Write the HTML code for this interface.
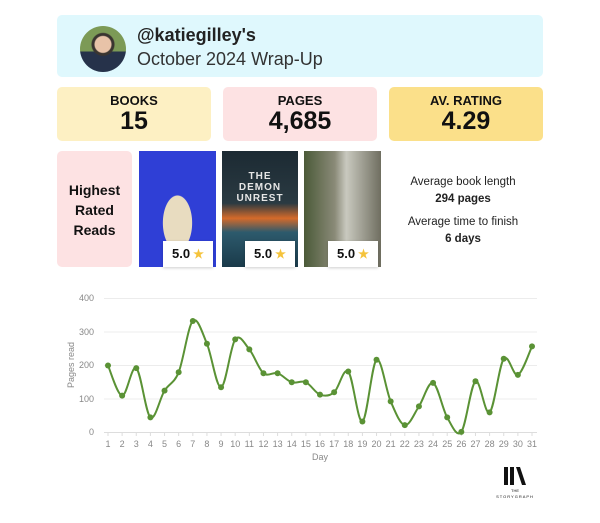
<!DOCTYPE html>
<html><head><meta charset="utf-8"><style>
*{margin:0;padding:0;box-sizing:border-box}
body{width:600px;height:523px;background:#fff;font-family:"Liberation Sans",sans-serif;position:relative;overflow:hidden;color:#111}
.abs{position:absolute}
.box{position:absolute;border-radius:5px}
.lbl{position:absolute;width:100%;text-align:center;font-weight:bold}
.badge{position:absolute;background:#fff;width:50px;height:26px;font-weight:bold;font-size:13px;line-height:26px;padding-left:9px;box-shadow:0 1px 3px rgba(0,0,0,.2)}
.badge span{color:#f5c33b;font-size:12px;margin-left:3px}
</style></head><body>
<div class="box" style="left:57px;top:15px;width:486px;height:62px;background:#dff8fd"></div>
<div class="abs" style="left:80px;top:26px;width:46px;height:46px;border-radius:50%;background:radial-gradient(circle at 50% 40%,#e8c3a8 0 8px,#3a3530 9px 11px,transparent 12px),linear-gradient(#7c9a56 0 55%,#26324a 55%);"></div>
<div class="abs" style="left:137px;top:25px;font-size:18px;font-weight:bold;color:#222">@katiegilley's</div>
<div class="abs" style="left:137px;top:49px;font-size:18px;color:#333">October 2024 Wrap-Up</div>

<div class="box" style="left:57px;top:87px;width:154px;height:54px;background:#fdf0c3"><div class="lbl" style="top:6px;font-size:13px">BOOKS</div><div class="lbl" style="top:20px;font-size:25px">15</div></div>
<div class="box" style="left:223px;top:87px;width:154px;height:54px;background:#fde2e3"><div class="lbl" style="top:6px;font-size:13px">PAGES</div><div class="lbl" style="top:20px;font-size:25px">4,685</div></div>
<div class="box" style="left:389px;top:87px;width:154px;height:54px;background:#fbe08a"><div class="lbl" style="top:6px;font-size:13px">AV. RATING</div><div class="lbl" style="top:20px;font-size:25px">4.29</div></div>

<div class="box" style="left:57px;top:151px;width:75px;height:116px;background:#fde2e3"><div class="lbl" style="top:29px;font-size:14px;line-height:20px">Highest<br>Rated<br>Reads</div></div>
<div class="abs" style="left:139px;top:151px;width:77px;height:116px;background:radial-gradient(ellipse 24px 45px at 50% 62%,#e8dcc0 0 60%,#2f3fd6 62%),#3c4fe0"></div>
<div class="abs" style="left:222px;top:151px;width:76px;height:116px;background:linear-gradient(#1c2a33 0,#2a3a42 45%,#d46a2a 58%,#2d5a6c 70%,#1a3a4a 100%)"><div class="lbl" style="top:20px;color:#e6e6e6;font-size:10px;letter-spacing:1px">THE<br>DEMON<br>UNREST</div></div>
<div class="abs" style="left:304px;top:151px;width:77px;height:116px;background:linear-gradient(90deg,#4b5a38,#8a8a78 40%,#c9c9bf 55%,#6f6e60);"></div>
<div class="badge" style="left:163px;top:241px">5.0<span>★</span></div>
<div class="badge" style="left:245px;top:241px">5.0<span>★</span></div>
<div class="badge" style="left:328px;top:241px">5.0<span>★</span></div>
<div class="abs" style="left:393px;top:174px;width:140px;text-align:center;font-size:11.5px;line-height:17px;color:#222">Average book length<br><b>294 pages</b></div>
<div class="abs" style="left:393px;top:214px;width:140px;text-align:center;font-size:11.5px;line-height:17px;color:#222">Average time to finish<br><b>6 days</b></div>

<svg class="abs" style="left:0;top:0" width="600" height="523" id="ch" font-family="Liberation Sans,sans-serif">
<g stroke="#ececec" stroke-width="1">
<line x1="104" x2="537" y1="298.5" y2="298.5"/><line x1="104" x2="537" y1="332" y2="332"/><line x1="104" x2="537" y1="365.5" y2="365.5"/><line x1="104" x2="537" y1="399" y2="399"/><line x1="104" x2="537" y1="432.5" y2="432.5" stroke="#ddd"/>
</g>
<g fill="#888" font-size="9" text-anchor="end">
<text x="94" y="301">400</text><text x="94" y="335">300</text><text x="94" y="368">200</text><text x="94" y="402">100</text><text x="94" y="435">0</text>
</g>
<text x="74" y="365" fill="#888" font-size="9" text-anchor="middle" transform="rotate(-90 74 365)">Pages read</text>
<text x="320" y="460" fill="#888" font-size="9" text-anchor="middle">Day</text>
<g id="xl" fill="#888" font-size="9" text-anchor="middle"></g>
<path id="ln" fill="none" stroke="#5a9235" stroke-width="2"/>
<g id="pts" fill="#5a9235"></g>
<g transform="translate(504,467)"><rect x="0" y="0" width="4" height="18" fill="#111"/><rect x="6" y="0" width="4" height="18" fill="#111"/><polygon points="12,0 16,0 22,18 18,18" fill="#111"/>
<text x="11" y="25" font-size="4" text-anchor="middle" fill="#111">THE</text><text x="11" y="31" font-size="4" text-anchor="middle" fill="#111" letter-spacing="1">STORYGRAPH</text></g>
</svg>
<script>
var d=[200,110,192,45,125,180,333,265,135,278,248,177,177,150,150,113,120,182,33,217,93,22,78,148,45,2,153,60,220,172,257];
var P=d.map(function(v,i){return [108+i*(424/30),432.5-v*0.335]});
var ns="http://www.w3.org/2000/svg",s="M"+P[0][0]+","+P[0][1];
for(var i=0;i<P.length-1;i++){var p0=P[i-1]||P[i],p1=P[i],p2=P[i+1],p3=P[i+2]||p2;
s+=" C"+(p1[0]+(p2[0]-p0[0])/6)+","+(p1[1]+(p2[1]-p0[1])/6)+" "+(p2[0]-(p3[0]-p1[0])/6)+","+(p2[1]-(p3[1]-p1[1])/6)+" "+p2[0]+","+p2[1];}
document.getElementById("ln").setAttribute("d",s);
P.forEach(function(p,i){var c=document.createElementNS(ns,"circle");c.setAttribute("cx",p[0]);c.setAttribute("cy",p[1]);c.setAttribute("r",3);document.getElementById("pts").appendChild(c);
var t=document.createElementNS(ns,"text");t.setAttribute("x",p[0]);t.setAttribute("y",447);t.textContent=i+1;document.getElementById("xl").appendChild(t);
var l=document.createElementNS(ns,"line");l.setAttribute("x1",p[0]);l.setAttribute("x2",p[0]);l.setAttribute("y1",432.5);l.setAttribute("y2",436);l.setAttribute("stroke","#ddd");document.getElementById("xl").appendChild(l);});
</script>
</body></html>
